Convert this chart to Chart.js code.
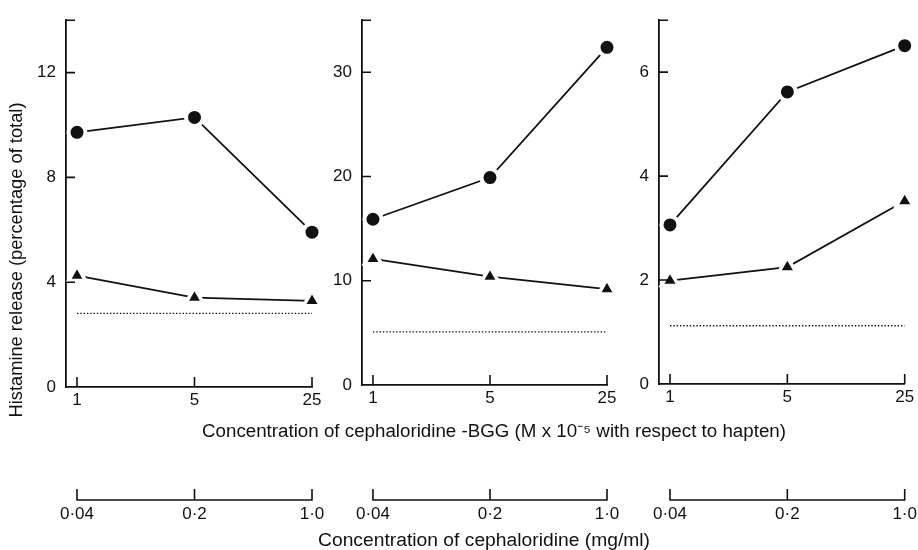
<!DOCTYPE html>
<html>
<head>
<meta charset="utf-8">
<script src="https://cdn.jsdelivr.net/npm/chart.js@4.4.0/dist/chart.umd.min.js"></script>
<style>
  html, body { margin: 0; padding: 0; background: #fff; }
  #wrap { position: relative; width: 918px; height: 550px; }
  #wrap canvas { position: absolute; left: 0; top: 0; }
</style>
</head>
<body>
<div id="wrap">
  <canvas id="panelA" width="918" height="550"></canvas>
  <canvas id="panelB" width="918" height="550"></canvas>
  <canvas id="panelC" width="918" height="550"></canvas>
</div>
<script>
// ---- data ----
const haptenConc = [1, 5, 25];               // cephaloridine-BGG, M x 10^-5
const haptenLabels = ["1", "5", "25"];
const drugConc = [0.04, 0.2, 1.0];           // cephaloridine, mg/ml
const drugLabels = ["0·04", "0·2", "1·0"];

// histamine release (% of total)
const circlesA = [9.72, 10.29, 5.91];
const trianglesA = [4.25, 3.41, 3.29];
const baselineA = 2.81;
const yLabelsA = [0, 4, 8, 12];
const yMaxA = 14;

const circlesB = [15.9, 19.9, 32.4];
const trianglesB = [12.1, 10.4, 9.2];
const baselineB = 5.1;
const yLabelsB = [0, 10, 20, 30];
const yMaxB = 35;

const circlesC = [3.06, 5.62, 6.51];
const trianglesC = [1.99, 2.25, 3.52];
const baselineC = 1.12;
const yLabelsC = [0, 2, 4, 6];
const yMaxC = 7;

const yTitle = "Histamine release (percentage of total)";
const xTitle = "Concentration of cephaloridine -BGG (M x 10\u207B\u2075 with respect to hapten)";
const x2Title = "Concentration of cephaloridine (mg/ml)";

// ---- layout / style ----
const INK = "#111";
const tickFont = { family: "'Liberation Sans', Arial, sans-serif", size: 17 };
const xMinFactor = 0.86;      // axis origin sits a little left of the first tick
const x2Top = 504;            // top of the mg/ml scale (its labels start here)

// plot boxes for the three panels (canvas pixels)
const boxes = {
  A: { left: 66, right: 312, top: 17, bottom: 387 },
  B: { left: 362, right: 607, top: 15, bottom: 385 },
  C: { left: 659, right: 905, top: 14, bottom: 384 }
};

// inward ticks on both axes, and the mg/ml bracket under each panel
const innerTicks = {
  id: "innerTicks",
  afterDraw(chart) {
    const { ctx, chartArea: a, scales } = chart;
    ctx.save();
    ctx.strokeStyle = INK;
    ctx.lineWidth = 1.6;
    ctx.beginPath();
    scales.y.ticks.forEach((t) => {
      if (t.value === 0) return;
      const py = scales.y.getPixelForValue(t.value);
      ctx.moveTo(a.left, py);
      ctx.lineTo(a.left + 9, py);
    });
    scales.x.ticks.forEach((t) => {
      const px = scales.x.getPixelForValue(t.value);
      ctx.moveTo(px, a.bottom);
      ctx.lineTo(px, a.bottom - 10);
    });
    const x2 = scales.x2;
    const lineY = x2.top - 4;
    const p = drugConc.map((v) => x2.getPixelForValue(v));
    ctx.moveTo(p[0], lineY - 11);
    ctx.lineTo(p[0], lineY);
    ctx.lineTo(p[2], lineY);
    ctx.lineTo(p[2], lineY - 11);
    ctx.moveTo(p[1], lineY);
    ctx.lineTo(p[1], lineY - 11);
    ctx.stroke();
    ctx.restore();
  }
};

function drawFitted(ctx, text, cx, cy, width, rot) {
  ctx.save();
  ctx.font = "18px 'Liberation Sans', Arial, sans-serif";
  ctx.fillStyle = INK;
  ctx.textAlign = "center";
  ctx.textBaseline = "middle";
  ctx.translate(cx, cy);
  ctx.rotate(rot);
  ctx.scale(width / ctx.measureText(text).width, 1);
  ctx.fillText(text, 0, 0);
  ctx.restore();
}

// shared titles, drawn once on the first canvas
const titles = {
  id: "titles",
  afterDraw(chart) {
    const ctx = chart.ctx;
    drawFitted(ctx, yTitle, 17, 260, 315, -Math.PI / 2);
    drawFitted(ctx, xTitle, 494, 432, 584, 0);
    drawFitted(ctx, x2Title, 484, 541, 332, 0);
  }
};

function pts(ys) {
  return haptenConc.map((x, i) => ({ x: x, y: ys[i] }));
}

function makePanel(id, box, circles, triangles, baseline, yLabels, yMax, extra) {
  return new Chart(document.getElementById(id), {
    type: "line",
    data: {
      datasets: [
        {
          data: pts(circles),
          borderColor: INK,
          borderWidth: 1.8,
          pointStyle: "circle",
          pointRadius: 8.5,
          pointBackgroundColor: INK,
          pointBorderColor: "#fff",
          pointBorderWidth: 4,
          clip: false
        },
        {
          data: pts(triangles),
          borderColor: INK,
          borderWidth: 1.8,
          pointStyle: "triangle",
          pointRadius: 9.8,
          pointBackgroundColor: INK,
          pointBorderColor: "#fff",
          pointBorderWidth: 3.5,
          clip: false
        },
        {
          data: [{ x: haptenConc[0], y: baseline }, { x: haptenConc[2], y: baseline }],
          borderColor: INK,
          borderWidth: 1.4,
          borderDash: [1.4, 1.9],
          pointRadius: 0,
          clip: false
        }
      ]
    },
    options: {
      responsive: false,
      animation: false,
      events: [],
      layout: { padding: { left: 0, top: box.top, right: 918 - box.right, bottom: 0 } },
      plugins: { legend: { display: false }, tooltip: { enabled: false } },
      scales: {
        x: {
          type: "logarithmic",
          position: "bottom",
          weight: 0,
          min: haptenConc[0] * xMinFactor,
          max: haptenConc[2],
          afterBuildTicks: (s) => { s.ticks = haptenConc.map((v) => ({ value: v })); },
          afterFit: (s) => { s.height = x2Top - box.bottom; },
          grid: { display: true, drawOnChartArea: false, drawTicks: false },
          border: { color: INK, width: 1.8 },
          ticks: {
            callback: (v) => haptenLabels[haptenConc.indexOf(v)],
            font: tickFont, color: INK, padding: 3, autoSkip: false, maxRotation: 0
          }
        },
        x2: {
          type: "logarithmic",
          position: "bottom",
          weight: 1,
          min: drugConc[0] * xMinFactor,
          max: drugConc[2],
          afterBuildTicks: (s) => { s.ticks = drugConc.map((v) => ({ value: v })); },
          afterFit: (s) => { s.height = 550 - x2Top; },
          grid: { display: false, drawTicks: false },
          border: { display: false },
          ticks: {
            callback: (v) => drugLabels[drugConc.indexOf(v)],
            font: tickFont, color: INK, padding: 0, autoSkip: false, maxRotation: 0
          }
        },
        y: {
          type: "linear",
          min: 0,
          max: yMax,
          afterBuildTicks: (s) => { s.ticks = yLabels.concat([yMax]).map((v) => ({ value: v })); },
          afterFit: (s) => { s.width = box.left; },
          grid: { display: true, drawOnChartArea: false, drawTicks: false },
          border: { color: INK, width: 1.8 },
          ticks: {
            callback: (v) => (yLabels.includes(v) ? String(v) : ""),
            font: tickFont, color: INK, padding: 10
          }
        }
      }
    },
    plugins: [innerTicks].concat(extra || [])
  });
}

makePanel("panelA", boxes.A, circlesA, trianglesA, baselineA, yLabelsA, yMaxA, [titles]);
makePanel("panelB", boxes.B, circlesB, trianglesB, baselineB, yLabelsB, yMaxB);
makePanel("panelC", boxes.C, circlesC, trianglesC, baselineC, yLabelsC, yMaxC);
</script>
</body>
</html>
